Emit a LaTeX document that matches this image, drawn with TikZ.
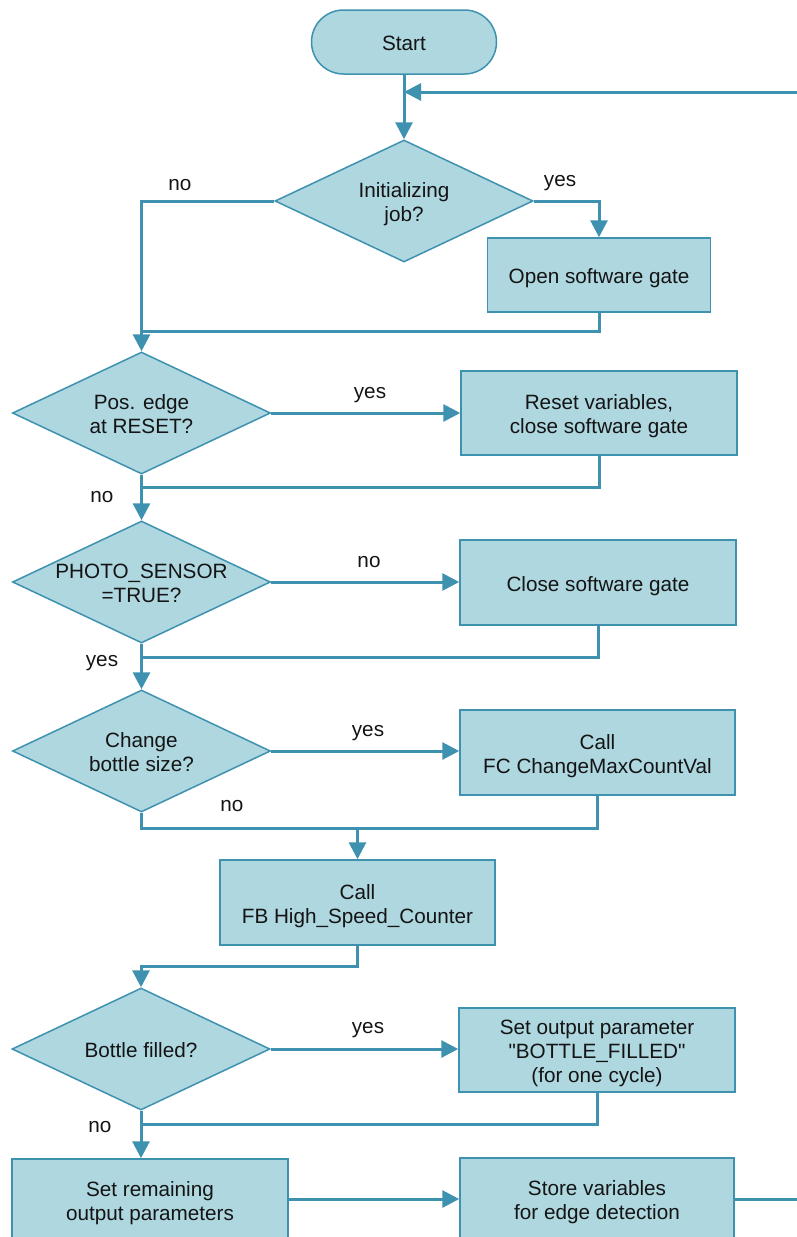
\documentclass[tikz,border=0pt]{standalone}
\usepackage{fontspec}
\setmainfont{Liberation Sans}
\usetikzlibrary{shapes.geometric,arrows.meta}
\definecolor{boxfill}{RGB}{174,215,224}
\definecolor{edgecol}{RGB}{62,146,176}
\definecolor{txt}{RGB}{20,20,20}
% #1 = number of lines, #2 = lines; text is vertically centred slightly below the node centre
\newcommand\ntext[2]{\makebox[0pt]{\raisebox{\dimexpr 12pt*#1-20.9pt\relax}[0pt][0pt]{\begin{tabular}[t]{@{}c@{}}#2\end{tabular}}}}
\begin{document}
\begin{tikzpicture}[x=1pt,y=-1pt,
  every node/.style={font=\fontsize{20.7}{24}\selectfont, text=txt},
  box/.style={draw=edgecol, fill=boxfill, line width=1.5pt, inner sep=0pt},
  dia/.style={diamond, draw=edgecol, fill=boxfill, line width=1.5pt, minimum width=258pt, minimum height=122pt, inner sep=0pt},
  conn/.style={draw=edgecol, line width=3pt},
  arr/.style={conn, -{Triangle[length=17pt,width=17pt]}},
  lbl/.style={inner sep=0pt}]
\useasboundingbox (0,0) rectangle (797,1237);
\clip (0,0) rectangle (797,1237);

% nodes
\node[box, rounded corners=32pt, minimum width=185pt, minimum height=64pt] (start) at (404,42) {\ntext{1}{Start}};
\node[dia] (d1) at (404,201) {\ntext{2}{Initializing\\job?}};
\node[box, minimum width=223pt, minimum height=74pt] (b1) at (599,275) {\ntext{1}{Open software gate}};
\node[dia] (d2) at (141.5,413) {\ntext{2}{Pos. edge\\at RESET?}};
\node[box, minimum width=276pt, minimum height=84pt] (b2) at (599,413) {\ntext{2}{Reset variables,\\close software gate}};
\node[dia] (d3) at (141.5,582) {\ntext{2}{PHOTO\_SENSOR\\=TRUE?}};
\node[box, minimum width=276pt, minimum height=85pt] (b3) at (598,582.5) {\ntext{1}{Close software gate}};
\node[dia] (d4) at (141.5,751) {\ntext{2}{Change\\bottle size?}};
\node[box, minimum width=275pt, minimum height=85pt] (b4) at (597.5,752.5) {\ntext{2}{Call\\FC ChangeMaxCountVal}};
\node[box, minimum width=275pt, minimum height=85pt] (fb) at (357.5,902.5) {\ntext{2}{Call\\FB High\_Speed\_Counter}};
\node[dia] (d5) at (141,1049) {\ntext{1}{Bottle filled?}};
\node[box, minimum width=276pt, minimum height=84pt] (b5) at (597,1050) {\ntext{3}{Set output parameter\\\textquotedbl BOTTLE\_FILLED\textquotedbl\\(for one cycle)}};
\node[box, minimum width=276pt, minimum height=82pt] (srem) at (150,1200) {\ntext{2}{Set remaining\\output parameters}};
\node[box, minimum width=274pt, minimum height=82pt] (store) at (597,1199) {\ntext{2}{Store variables\\for edge detection}};

% junction coordinates
\coordinate (j0) at (404,92);
\coordinate (cR) at (806,92);
\coordinate (m1) at (141.5,331);
\coordinate (m2) at (141.5,487);
\coordinate (m3) at (141.5,657);
\coordinate (m4) at (357.5,828);
\coordinate (m5) at (141,966);
\coordinate (m6) at (141,1124);

% connectors
\draw[arr] (start.south) -- (d1.north);
\draw[arr] (store.east) -| (cR) -- (j0);
\draw[arr] (d1.west) -| (d2.north);
\draw[arr] (d1.east) -| (b1.north);
\draw[conn] (b1.south) |- (m1);
\draw[arr] (d2.east) -- (d2.east -| b2.west);
\draw[conn] (b2.south) |- (m2);
\draw[arr] (d2.south) -- (d3.north);
\draw[arr] (d3.east) -- (d3.east -| b3.west);
\draw[conn] (b3.south) |- (m3);
\draw[arr] (d3.south) -- (d4.north);
\draw[arr] (d4.east) -- (d4.east -| b4.west);
\draw[conn] (b4.south) |- (m4);
\draw[arr] (d4.south) |- (m4) -- (fb.north);
\draw[arr] (fb.south) |- (m5) -- (d5.north);
\draw[arr] (d5.east) -- (d5.east -| b5.west);
\draw[conn] (b5.south) |- (m6);
\draw[arr] (d5.south) -- (d5.south |- srem.north);
\draw[arr] (srem.east |- store.west) -- (store.west);

% labels
\node[lbl] (l1) at (180,185) {no};
\node[lbl] (l2) at (560,183) {yes};
\node[lbl] (l3) at (370,395) {yes};
\node[lbl] (l4) at (102,497) {no};
\node[lbl] (l5) at (369,562) {no};
\node[lbl] (l6) at (102,663) {yes};
\node[lbl] (l7) at (368,733) {yes};
\node[lbl] (l8) at (232,806) {no};
\node[lbl] (l9) at (368,1030) {yes};
\node[lbl] (l10) at (100,1127) {no};
\end{tikzpicture}
\end{document}
